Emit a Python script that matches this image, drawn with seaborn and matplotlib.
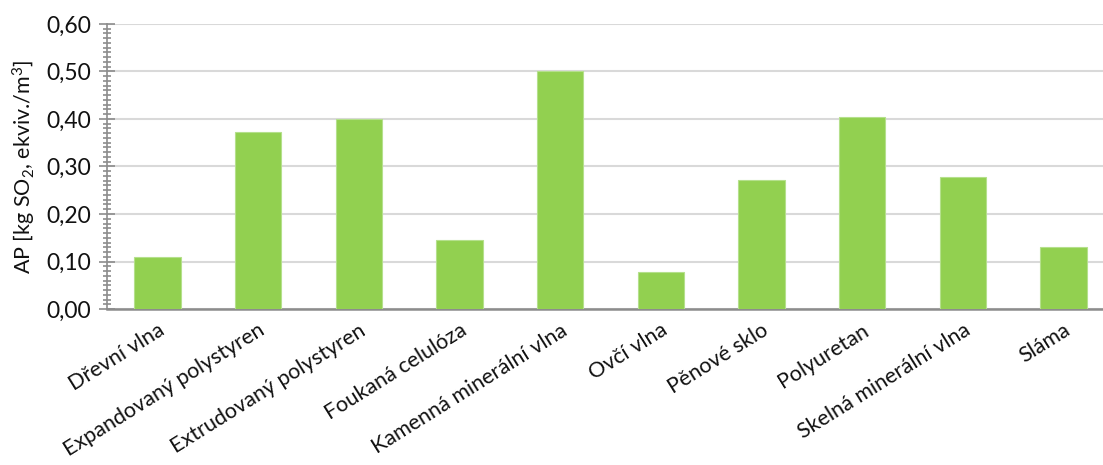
import matplotlib
matplotlib.use("Agg")
import matplotlib.pyplot as plt
import seaborn as sns
import pandas as pd
from matplotlib.ticker import MultipleLocator, FuncFormatter

categories = ["Dřevní vlna", "Expandovaný polystyren", "Extrudovaný polystyren",
              "Foukaná celulóza", "Kamenná minerální vlna", "Ovčí vlna",
              "Pěnové sklo", "Polyuretan", "Skelná minerální vlna", "Sláma"]
values = [0.110, 0.372, 0.401, 0.145, 0.501, 0.078, 0.272, 0.404, 0.278, 0.130]
y_label = r"AP [kg SO$_2$, ekviv./m$^3$]"

sns.set_theme(style="white")
plt.rcParams["font.family"] = ["Lato", "DejaVu Sans"]
plt.rcParams["mathtext.fontset"] = "custom"
plt.rcParams["mathtext.rm"] = "Lato"
plt.rcParams["mathtext.it"] = "Lato"

df = pd.DataFrame({"cat": categories, "val": values})

fig = plt.figure(figsize=(11.03, 4.65), dpi=100)
ax = fig.add_axes([107/1103, 1 - 309/465, 1007/1103, (309 - 24)/465])

sns.barplot(data=df, x="cat", y="val", color="#92D050", saturation=1,
            width=0.46, edgecolor="#B5E08C", linewidth=0.8, ax=ax, zorder=3)

ax.set_xlim(-0.5, 9.5)
ax.set_ylim(0, 0.60)
ax.yaxis.set_major_locator(MultipleLocator(0.10))
ax.yaxis.set_minor_locator(MultipleLocator(0.01))
ax.yaxis.set_major_formatter(FuncFormatter(lambda v, p: f"{v:.2f}".replace(".", ",")))
ax.grid(axis="y", which="major", color="#D9D9D9", linewidth=1.5, zorder=0)
ax.set_axisbelow(True)

for s in ["top", "right"]:
    ax.spines[s].set_visible(False)
ax.spines["left"].set_color("#8C8C8C")
ax.spines["left"].set_linewidth(1.2)
ax.spines["bottom"].set_color("#8C8C8C")
ax.spines["bottom"].set_linewidth(1.8)

ax.tick_params(axis="y", which="major", direction="inout", length=11, width=1.2,
               color="#8C8C8C", labelsize=16.5, pad=6, left=True, labelcolor="#111111")
ax.tick_params(axis="y", which="minor", direction="inout", length=6, width=1.2,
               color="#8C8C8C", left=True)
ax.tick_params(axis="x", which="both", length=0, labelsize=15.5, pad=8, labelcolor="#111111")

ax.set_xlabel("")
ax.set_ylabel(y_label, fontsize=15.5, labelpad=6, color="#111111")
plt.setp(ax.get_xticklabels(), rotation=32, ha="right", rotation_mode="anchor")

fig.savefig("out.png", dpi=100)
